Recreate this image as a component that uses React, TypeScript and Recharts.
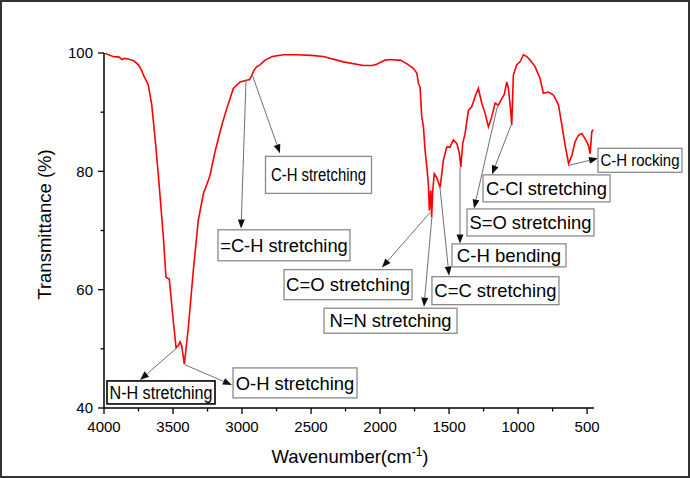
import React from 'react';
import { LineChart, Line, XAxis, YAxis, ReferenceLine, ReferenceDot } from 'recharts';

// ---- spectrum data ----
const wavenumber = [
  4000, 3935, 3890, 3870, 3848, 3800, 3780, 3751, 3730, 3715, 3679, 3654, 3630, 3606, 3570, 3551, 3527, 3498, 3478, 3460, 3449, 3437,
  3418, 3389, 3353, 3317, 3280, 3244, 3232, 3196, 3150, 3111, 3063, 3014, 2966, 2945, 2930, 2913, 2893, 2870, 2833, 2780,
  2701, 2600, 2500, 2411, 2266, 2121, 2060, 2024, 1964, 1920, 1879, 1855, 1807, 1759, 1734, 1722, 1710, 1698, 1686, 1674,
  1660, 1650, 1643, 1633, 1626, 1619, 1607, 1590, 1565, 1541, 1517, 1493, 1469, 1444, 1425, 1415, 1401, 1384, 1360, 1336,
  1312, 1288, 1263, 1239, 1215, 1191, 1167, 1143, 1118, 1100, 1082, 1070, 1053, 1046, 1034, 1010, 986, 961, 937, 913,
  877, 841, 817, 780, 744, 707, 683, 659, 634, 610, 587, 563, 539, 514, 490, 478, 466, 454,
];
const transmittance = [
  100, 99.4, 99.3, 98.9, 99.1, 98.8, 98.6, 98.0, 97.2, 96.3, 94.6, 91.2, 85.6, 79.3, 68.9, 62.1, 61.8, 54.7, 50.2, 50.6, 51.2, 50.5,
  47.4, 53.6, 63.2, 71.7, 76.2, 78.5, 79.3, 83.3, 87.5, 90.6, 94.0, 95.1, 95.4, 95.5, 96.2, 97.1, 97.7, 98.0, 98.8, 99.4,
  99.7, 99.7, 99.6, 99.4, 98.5, 97.9, 97.9, 98.1, 98.8, 98.9, 98.8, 98.8, 98.2, 97.4, 96.6, 94.9, 94.2, 89.2, 87.6, 83.6,
  80.5, 77.9, 73.4, 76.8, 72.3, 76.5, 79.6, 79.0, 77.3, 81.9, 84.1, 84.1, 85.3, 84.7, 83.0, 80.7, 84.7, 86.4, 90.3, 90.9,
  92.6, 94.0, 91.5, 89.8, 87.5, 89.2, 91.5, 91.2, 92.3, 93.0, 95.1, 94.0, 90.1, 87.8, 96.3, 98.0, 98.5, 99.7, 99.4, 98.8,
  97.7, 95.7, 93.2, 93.4, 92.9, 91.2, 87.8, 84.4, 81.3, 82.7, 85.0, 86.1, 86.4, 85.5, 84.4, 83.0, 86.7, 87.0,
];

const xTicks = [4000, 3750, 3500, 3250, 3000, 2750, 2500, 2250, 2000, 1750, 1500, 1250, 1000, 750, 500];
const yTicks = [40, 50, 60, 70, 80, 90, 100];

// ---- annotations (band assignments) ----
const bandLabels = [
  'C-H stretching', '=C-H stretching', 'C=O stretching', 'N=N stretching', 'C=C stretching', 'C-H bending',
  'S=O stretching', 'C-Cl stretching', 'C-H rocking', 'N-H stretching', 'O-H stretching',
];
const peakWavenumber = [2928, 2971, 1638, 1624, 1566, 1421, 1146, 1051, 631, 3471, 3413];
const peakTransmittance = [96.44, 95.42, 73.05, 72.37, 77.29, 80.68, 91.36, 87.8, 81.02, 50.17, 47.29];
const arrowEndWavenumber = [2725, 3007, 1986, 1682, 1500, 1421, 1319, 1189, 421, 3739, 3073];
const arrowEndTransmittance = [83.05, 70.34, 63.73, 57.12, 62.37, 67.8, 73.73, 79.49, 82.2, 44.75, 43.9];
const labelWavenumber = [2446, 2696, 2232, 1924, 1164, 1066, 910, 794, 117, 3587, 2616];
const labelTransmittance = [79.4, 67.5, 60.85, 54.75, 59.83, 65.8, 71.36, 77.12, 81.86, 42.63, 44.24];

// layout of the label boxes (px); textFit = compressed text width (0 = natural)
const boxWidth = [106, 132, 128, 133, 127, 114, 127, 127, 84, 108, 124];
const boxHeight = [37, 31, 30, 25, 28, 23, 27, 27, 24, 23, 30];
const boxFont = [18, 18.3, 18.5, 18.4, 18.4, 18.6, 18.4, 18.3, 15.8, 18, 18.4];
const textFit = [95, 0, 0, 0, 0, 0, 0, 0, 79, 103, 0];
const boxDark = [false, false, false, false, false, false, false, false, false, true, false];

const data = wavenumber.map((w, i) => ({ w, t: transmittance[i] }));

const FONT = '"Liberation Sans", Arial, Helvetica, sans-serif';

const XTick = (props: any) => {
  const { x, y, payload } = props;
  const major = payload.value % 500 === 0;
  return (
    <g>
      <line x1={x} x2={x} y1={y} y2={y + (major ? 6 : 3.5)} stroke="#000" strokeWidth={1.3} />
      {major && (
        <text x={x} y={y + 24} textAnchor="middle" fontSize={15} fontFamily={FONT} fill="#000">
          {payload.value}
        </text>
      )}
    </g>
  );
};

const YTick = (props: any) => {
  const { x, y, payload } = props;
  const major = payload.value % 20 === 0;
  return (
    <g>
      <line x1={x - (major ? 6 : 3.5)} x2={x} y1={y} y2={y} stroke="#000" strokeWidth={1.3} />
      {major && (
        <text x={x - 11} y={y} dy="0.35em" textAnchor="end" fontSize={15} fontFamily={FONT} fill="#000">
          {payload.value}
        </text>
      )}
    </g>
  );
};

const Arrow = (props: any) => {
  const { x1, y1, x2, y2 } = props;
  const dx = x2 - x1;
  const dy = y2 - y1;
  const len = Math.sqrt(dx * dx + dy * dy) || 1;
  const ux = dx / len;
  const uy = dy / len;
  const hl = 9;
  const hw = 3.5;
  const bx = x2 - ux * hl;
  const by = y2 - uy * hl;
  const pts = `${x2},${y2} ${bx - uy * hw},${by + ux * hw} ${bx + uy * hw},${by - ux * hw}`;
  return (
    <g>
      <line x1={x1} y1={y1} x2={bx} y2={by} stroke="#707070" strokeWidth={1} />
      <polygon points={pts} fill="#111" />
    </g>
  );
};

const makeBox = (i: number) => (props: any) => {
  const { cx, cy } = props;
  const w = boxWidth[i];
  const h = boxHeight[i];
  const fit = textFit[i];
  const extra: any = fit ? { textLength: fit, lengthAdjust: 'spacingAndGlyphs' } : {};
  return (
    <g>
      <rect
        x={cx - w / 2}
        y={cy - h / 2}
        width={w}
        height={h}
        fill="#fff"
        stroke={boxDark[i] ? '#000' : '#8a8a8a'}
        strokeWidth={boxDark[i] ? 1.6 : 1.3}
      />
      <text
        x={cx}
        y={cy}
        dy="0.36em"
        textAnchor="middle"
        fontSize={boxFont[i]}
        fontFamily={FONT}
        fill="#000"
        {...extra}
      >
        {bandLabels[i]}
      </text>
    </g>
  );
};

const XTitle = (props: any) => {
  const vb = props.viewBox || {};
  const cx = vb.x + vb.width / 2;
  return (
    <text x={cx + 1} y={vb.y + 55} textAnchor="middle" fontSize={18.5} fontFamily={FONT} fill="#000">
      <tspan>Wavenumber(cm</tspan>
      <tspan fontSize={12} dy={-7}>-1</tspan>
      <tspan dy={7}>)</tspan>
    </text>
  );
};

const YTitle = (props: any) => {
  const vb = props.viewBox || {};
  const cx = vb.x + 1;
  const cy = vb.y + vb.height / 2 - 6;
  return (
    <text
      x={cx}
      y={cy}
      textAnchor="middle"
      dy="0.35em"
      fontSize={18.5}
      fontFamily={FONT}
      fill="#000"
      transform={`rotate(-90, ${cx}, ${cy})`}
    >
      Transmittance (%)
    </text>
  );
};

export default function App() {
  return (
    <div style={{ position: 'absolute', left: 0, top: 0, width: 691, height: 478, background: '#fff' }}>
      <div
        style={{
          position: 'absolute',
          left: 0,
          top: 0,
          width: 690,
          height: 478,
          border: '2px solid #333',
          boxSizing: 'border-box',
        }}
      />
      <div style={{ position: 'absolute', left: 0, top: 0 }}>
        <LineChart width={691} height={478} data={data} margin={{ top: 53, right: 97, bottom: 40, left: 44 }}>
          <XAxis
            dataKey="w"
            type="number"
            domain={[450, 4000]}
            reversed
            ticks={xTicks}
            interval={0}
            tickSize={0}
            tickMargin={0}
            tickLine={false}
            tick={<XTick />}
            height={30}
            allowDataOverflow
            axisLine={{ stroke: '#000', strokeWidth: 1.5 }}
            label={{ content: <XTitle /> }}
          />
          <YAxis
            type="number"
            domain={[40, 100]}
            ticks={yTicks}
            interval={0}
            tickSize={0}
            tickMargin={0}
            tickLine={false}
            tick={<YTick />}
            width={60}
            allowDataOverflow
            axisLine={{ stroke: '#000', strokeWidth: 1.5 }}
            label={{ content: <YTitle /> }}
          />
          <Line
            dataKey="t"
            type="linear"
            stroke="#ff0000"
            strokeWidth={1.6}
            dot={false}
            activeDot={false}
            isAnimationActive={false}
          />
          {bandLabels.map((_, i) => (
            <ReferenceLine
              key={`a${i}`}
              segment={[
                { x: peakWavenumber[i], y: peakTransmittance[i] },
                { x: arrowEndWavenumber[i], y: arrowEndTransmittance[i] },
              ]}
              ifOverflow="visible"
              shape={<Arrow />}
            />
          ))}
          {bandLabels.map((_, i) => (
            <ReferenceDot
              key={`b${i}`}
              x={labelWavenumber[i]}
              y={labelTransmittance[i]}
              r={1}
              ifOverflow="visible"
              shape={makeBox(i)}
            />
          ))}
        </LineChart>
      </div>
    </div>
  );
}
